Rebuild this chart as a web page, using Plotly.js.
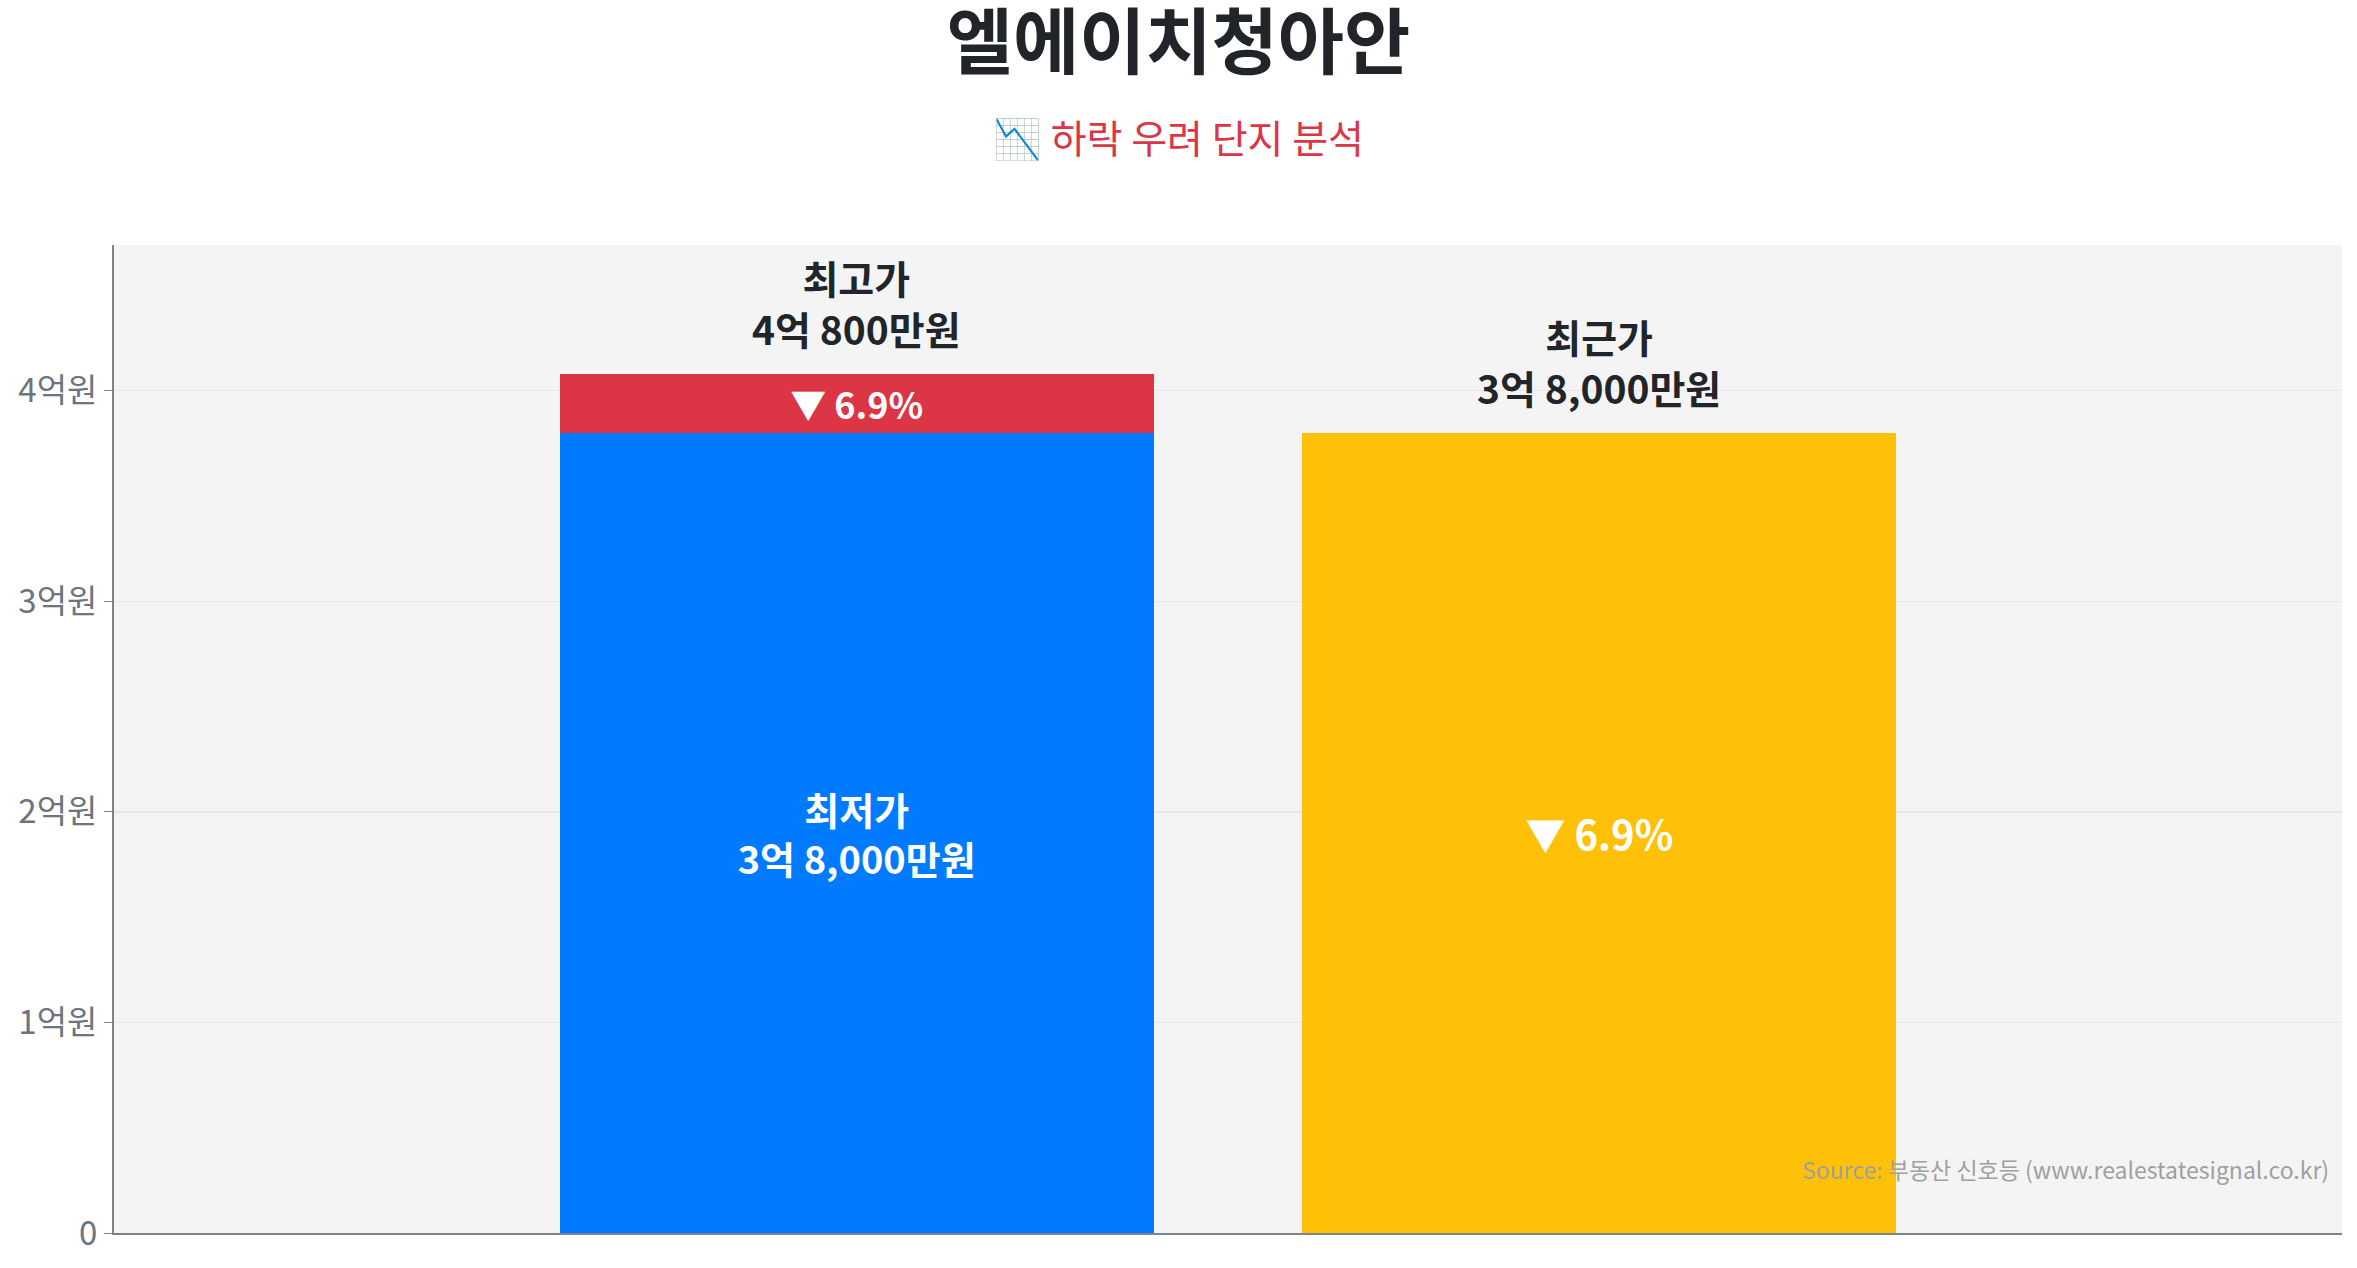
<!DOCTYPE html>
<html>
<head>
<meta charset="utf-8">
<script src="https://cdn.plot.ly/plotly-3.0.1.min.js"></script>
<style>
  html, body { margin: 0; padding: 0; background: #ffffff; }
  #chart { width: 2357px; height: 1268px; }
</style>
</head>
<body>
<div id="chart"></div>
<script>
// ------------------------------------------------------------------------------
// DATA

const complexName = '엘에이치청아안';
const subtitle    = '📉 하락 우려 단지 분석';
const sourceText  = 'Source: 부동산 신호등 (www.realestatesignal.co.kr)';

const categories  = ['최저가 · 최고가', '최근가'];
const lowPrice    = 380000000;   // 최저가
const highPrice   = 408000000;   // 최고가
const recentPrice = 380000000;   // 최근가

const tickVals  = [0, 100000000, 200000000, 300000000, 400000000];
const tickTexts = ['0', '1억원', '2억원', '3억원', '4억원'];

// ------------------------------------------------------------------------------
// PARAMETERS

const font_family = '"Noto Sans CJK KR", "Noto Sans", sans-serif';
const col_blue   = '#007bff';
const col_red    = '#dc3545';
const col_yellow = '#ffc107';
const col_dark   = '#212529';
const col_grey   = '#6c757d';

// page centre in paper coords (plot area spans 114 .. 2342 px)
const page_mid = (2357 / 2 - 114) / (2357 - 114 - 15);

// ------------------------------------------------------------------------------
// UTILITIES

function formatKrw(v) {
    const eok = Math.floor(v / 100000000);
    const man = Math.round((v % 100000000) / 10000);
    let s = '';
    if (eok > 0) s += eok + '억';
    if (man > 0) s += (s ? ' ' : '') + man.toLocaleString('en-US') + '만';
    return s + '원';
}

const dropPct  = (highPrice - lowPrice) / highPrice * 100;
const dropText = '▼ ' + dropPct.toFixed(1) + '%';

// ------------------------------------------------------------------------------
// TRACES

const lowTrace = {
    type: 'bar',
    x: [categories[0]],
    y: [lowPrice],
    marker: { color: col_blue },
    text: ['최저가<br>' + formatKrw(lowPrice)],
    textposition: 'inside',
    insidetextanchor: 'middle',
    textangle: 0,
    textfont: { family: font_family, size: 38, color: '#ffffff', weight: 'bold' },
    hoverinfo: 'none'
};

const gapTrace = {
    type: 'bar',
    x: [categories[0]],
    y: [highPrice - lowPrice],
    marker: { color: col_red },
    text: [dropText],
    textposition: 'inside',
    insidetextanchor: 'middle',
    textangle: 0,
    textfont: { family: font_family, size: 36, color: '#ffffff', weight: 'bold' },
    hoverinfo: 'none'
};

const recentTrace = {
    type: 'bar',
    x: [categories[1]],
    y: [recentPrice],
    marker: { color: col_yellow },
    text: [dropText],
    textposition: 'inside',
    insidetextanchor: 'middle',
    textangle: 0,
    textfont: { family: font_family, size: 40, color: '#ffffff', weight: 'bold' },
    hoverinfo: 'none'
};

// ------------------------------------------------------------------------------
// LAYOUT

const layout = {
    width: 2357,
    height: 1268,
    barmode: 'stack',
    bargap: 0.2,
    showlegend: false,
    paper_bgcolor: '#ffffff',
    plot_bgcolor: '#f4f4f4',
    font: { family: font_family, color: col_dark },
    margin: { l: 114, r: 15, t: 245, b: 35, pad: 0 },
    title: {
        text: complexName,
        x: 0.5,
        xanchor: 'center',
        xref: 'container',
        y: 0.966,
        yanchor: 'middle',
        yref: 'container',
        font: { family: font_family, size: 72, color: col_dark, weight: 'bold' }
    },
    xaxis: {
        type: 'category',
        range: [-1, 2],
        showticklabels: false,
        ticks: '',
        showgrid: false,
        zeroline: false,
        showline: true,
        linecolor: '#7b838b',
        linewidth: 2
    },
    yaxis: {
        range: [0, highPrice * 1.15],
        tickvals: tickVals,
        ticktext: tickTexts,
        tickfont: { family: font_family, size: 33, color: col_grey },
        ticks: 'outside',
        ticklen: 8,
        tickcolor: '#7b838b',
        showgrid: true,
        gridcolor: '#e6e6e6',
        gridwidth: 1.5,
        zeroline: false,
        showline: true,
        linecolor: '#7b838b',
        linewidth: 2
    },
    annotations: [
        {
            text: subtitle,
            xref: 'paper', yref: 'paper',
            x: page_mid, y: 1.11,
            xanchor: 'center', yanchor: 'middle',
            showarrow: false,
            font: { family: font_family, size: 39, color: col_red }
        },
        {
            text: '<b>최고가<br>' + formatKrw(highPrice) + '</b>',
            x: categories[0], y: highPrice,
            xanchor: 'center', yanchor: 'bottom',
            yshift: 16,
            showarrow: false,
            font: { family: font_family, size: 39, color: col_dark }
        },
        {
            text: '<b>최근가<br>' + formatKrw(recentPrice) + '</b>',
            x: categories[1], y: recentPrice,
            xanchor: 'center', yanchor: 'bottom',
            yshift: 16,
            showarrow: false,
            font: { family: font_family, size: 39, color: col_dark }
        },
        {
            text: sourceText,
            xref: 'paper', yref: 'paper',
            x: 0.995, y: 0.065,
            xanchor: 'right', yanchor: 'middle',
            showarrow: false,
            font: { family: font_family, size: 23, color: '#a0a0a0' }
        }
    ]
};

Plotly.newPlot('chart', [lowTrace, gapTrace, recentTrace], layout, { displayModeBar: false, staticPlot: true });
</script>
</body>
</html>
